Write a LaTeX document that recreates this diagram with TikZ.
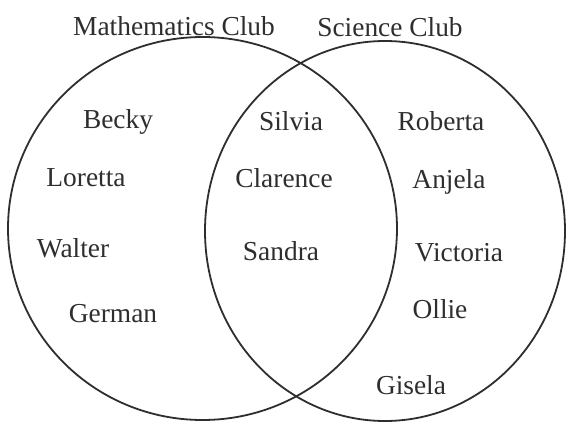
\documentclass[tikz,border=0pt]{standalone}
\usepackage{fontspec}
\setmainfont{Liberation Serif}
\definecolor{ink}{HTML}{2E2E2E}
\begin{document}
\begin{tikzpicture}[x=1pt,y=-1pt,
  lbl/.style={anchor=base,inner sep=0pt,text=ink,font=\fontsize{27.4}{30}\selectfont},
  ring/.style={draw=ink,line width=1.8pt}]
\fill[white] (0,0) rectangle (566,423);
\useasboundingbox (0,0) rectangle (566,423);
% circles
\draw[ring] (202.5,228.5) ellipse [x radius=194.5, y radius=191.5];
\draw[ring] (385,231) ellipse [x radius=180, y radius=190];
% titles
\node[lbl] (math) at (174,35) {Mathematics Club};
\node[lbl] (sci) at (390,36) {Science Club};
% left only
\node[lbl] (becky) at (118,128) {Becky};
\node[lbl] (loretta) at (86,186) {Loretta};
\node[lbl] (walter) at (73,257) {Walter};
\node[lbl] (german) at (113,322) {German};
% both
\node[lbl] (silvia) at (291,130) {Silvia};
\node[lbl] (clarence) at (284,187) {Clarence};
\node[lbl] (sandra) at (281,260) {Sandra};
% right only
\node[lbl] (roberta) at (441,130) {Roberta};
\node[lbl] (anjela) at (449,188) {Anjela};
\node[lbl] (victoria) at (459,261) {Victoria};
\node[lbl] (ollie) at (440,318) {Ollie};
\node[lbl] (gisela) at (411,394) {Gisela};
\end{tikzpicture}
\end{document}
